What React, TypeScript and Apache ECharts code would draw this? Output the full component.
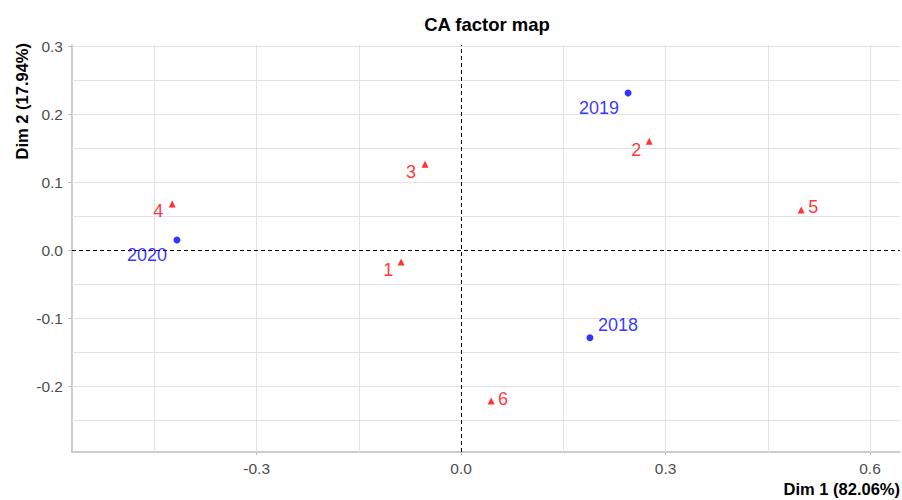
import React, { useEffect, useRef } from "react";
import * as echarts from "echarts";

const rowNames = ["2018", "2019", "2020"];
const rowX = [0.189, 0.245, -0.417];
const rowY = [-0.129, 0.231, 0.0147];

const colNames = ["1", "2", "3", "4", "5", "6"];
const colX = [-0.088, 0.276, -0.053, -0.424, 0.499, 0.044];
const colY = [-0.0176, 0.16, 0.126, 0.0676, 0.0588, -0.222];

const xTicks = [-0.3, 0, 0.3, 0.6];
const yTicks = [-0.2, -0.1, 0, 0.1, 0.2, 0.3];
const xGrid = [-0.45, -0.3, -0.15, 0.15, 0.3, 0.45, 0.6];
const yGrid = [-0.25, -0.2, -0.15, -0.1, -0.05, 0.05, 0.1, 0.15, 0.2, 0.25, 0.3];

const X_MIN = -0.571;
const X_MAX = 0.644;
const Y_MIN = -0.297;
const Y_MAX = 0.3015;

// label offsets (styling, in pixels)
const rowLabelOffsets: [number, number][] = [[28, -13], [-29, 15], [-30, 15]];
const colLabelOffsets: [number, number][] = [[-13, 8], [-13, 9], [-14, 8], [-14, 7], [12, -3], [12, -2]];

const FONT = "'Liberation Sans', Arial, sans-serif";

export default function App() {
  const ref = useRef<HTMLDivElement>(null);
  useEffect(() => {
    if (!ref.current) return;
    const chart = echarts.init(ref.current, undefined, { renderer: "svg" });
    const gridColor = "#E2E2E2";
    const axisColor = "#BDBDBD";
    const tickLabel = { color: "#4D4D4D", fontSize: 15.5, fontFamily: FONT };
    chart.setOption({
      animation: false,
      backgroundColor: "#FFFFFF",
      textStyle: { fontFamily: FONT },
      grid: { left: 72, right: 2, top: 45, bottom: 48, containLabel: false },
      xAxis: {
        type: "value",
        min: X_MIN,
        max: X_MAX,
        axisLine: { show: true, onZero: false, lineStyle: { color: axisColor, width: 1.5 } },
        axisTick: { show: true, length: 3, lineStyle: { color: axisColor }, customValues: xTicks },
        axisLabel: { ...tickLabel, margin: 8, customValues: xTicks, formatter: (v: number) => v.toFixed(1) },
        splitLine: { show: false },
      },
      yAxis: {
        type: "value",
        min: Y_MIN,
        max: Y_MAX,
        axisLine: { show: true, onZero: false, lineStyle: { color: axisColor, width: 1.5 } },
        axisTick: { show: true, length: 4, lineStyle: { color: axisColor }, customValues: yTicks },
        axisLabel: { ...tickLabel, margin: 9, customValues: yTicks, formatter: (v: number) => v.toFixed(1) },
        splitLine: { show: false },
      },
      graphic: [
        {
          type: "text",
          x: 487,
          y: 24,
          style: {
            text: "CA factor map",
            fontSize: 18.5,
            fontWeight: "bold",
            fill: "#000",
            fontFamily: FONT,
            align: "center",
            verticalAlign: "middle",
          },
        },
        {
          type: "text",
          x: 900,
          y: 489,
          style: {
            text: "Dim 1 (82.06%)",
            fontSize: 16.5,
            fontWeight: "bold",
            fill: "#000",
            fontFamily: FONT,
            align: "right",
            verticalAlign: "middle",
          },
        },
        {
          type: "text",
          x: 22,
          y: 43,
          rotation: Math.PI / 2,
          style: {
            text: "Dim 2 (17.94%)",
            fontSize: 16.5,
            fontWeight: "bold",
            fill: "#000",
            fontFamily: FONT,
            align: "right",
            verticalAlign: "middle",
          },
        },
      ],
      series: [
        {
          type: "scatter",
          data: [],
          silent: true,
          markLine: {
            silent: true,
            symbol: "none",
            animation: false,
            label: { show: false },
            lineStyle: { color: gridColor, type: "solid", width: 1 },
            data: [
              ...xGrid.map((v) => ({ xAxis: v })),
              ...yGrid.map((v) => ({ yAxis: v })),
            ],
          },
          z: 1,
        },
        {
          type: "scatter",
          data: [],
          silent: true,
          markLine: {
            silent: true,
            symbol: "none",
            animation: false,
            label: { show: false },
            lineStyle: { color: "#000", type: [4, 3], width: 1 },
            data: [{ xAxis: 0 }, { yAxis: 0 }],
          },
          z: 2,
        },
        {
          type: "scatter",
          name: "rows",
          symbol: "circle",
          symbolSize: 7,
          itemStyle: { color: "#0000FF" },
          z: 5,
          data: rowNames.map((n, i) => ({
            value: [rowX[i], rowY[i]],
            name: n,
            label: {
              show: true,
              formatter: n,
              position: "inside",
              align: "center",
              verticalAlign: "middle",
              offset: rowLabelOffsets[i],
              color: "#0000FF",
              fontSize: 18,
              fontFamily: FONT,
            },
          })),
        },
        {
          type: "scatter",
          name: "cols",
          symbol: "triangle",
          symbolSize: 7,
          itemStyle: { color: "#FF0000" },
          z: 5,
          data: colNames.map((n, i) => ({
            value: [colX[i], colY[i]],
            name: n,
            label: {
              show: true,
              formatter: n,
              position: "inside",
              align: "center",
              verticalAlign: "middle",
              offset: colLabelOffsets[i],
              color: "#FF0000",
              fontSize: 18,
              fontFamily: FONT,
            },
          })),
        },
      ],
    });
    return () => chart.dispose();
  }, []);
  return <div ref={ref} style={{ width: 902, height: 500, position: "absolute", left: 0, top: 0 }} />;
}
